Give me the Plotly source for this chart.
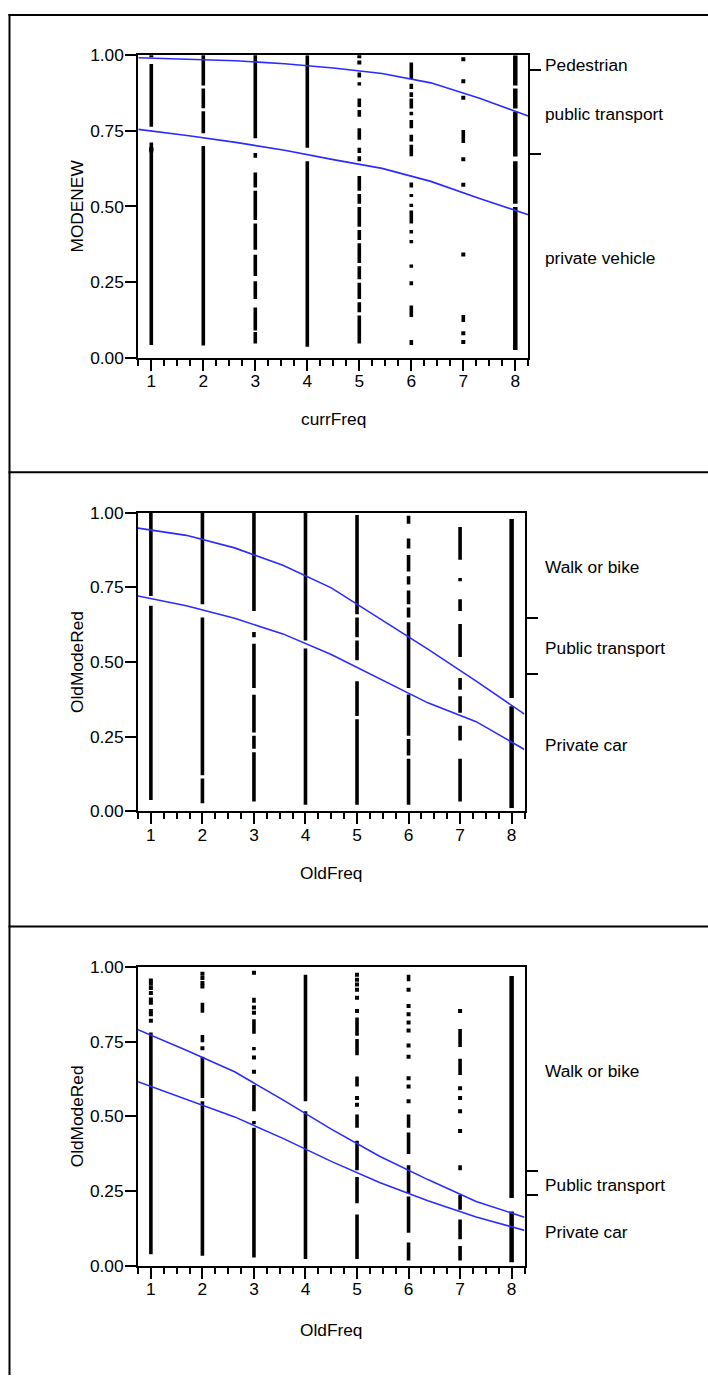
import plotly.graph_objects as go

W, H = 708, 1385
FONT = "Liberation Sans, Arial, sans-serif"
FS = 17.3

FREQ = [1, 2, 3, 4, 5, 6, 7, 8]
CURVE_X = [0.75, 1.6875, 2.625, 3.5625, 4.5, 5.4375, 6.375, 7.3125, 8.25]
Y_TICKS = [0.0, 0.25, 0.5, 0.75, 1.0]
Y_TICKTEXT = ["0.00", "0.25", "0.50", "0.75", "1.00"]

# ---------------- panel 1: MODENEW vs currFreq ----------------
P1_XTITLE = "currFreq"
P1_YTITLE = "MODENEW"
P1_UPPER = [0.992, 0.988, 0.982, 0.972, 0.958, 0.940, 0.909, 0.858, 0.799]
P1_LOWER = [0.755, 0.735, 0.712, 0.686, 0.655, 0.626, 0.583, 0.526, 0.473]
P1_BOUNDS = [0.951, 0.672]
P1_LEVELS = ["Pedestrian", "public transport", "private vehicle"]
P1_SEGMENTS = [
    [(0.764, 0.971), (0.042, 0.712)],
    [(0.90, 1.007), (0.825, 0.89), (0.742, 0.815), (0.040, 0.700)],
    [(0.726, 1.009), (0.661, 0.677), (0.563, 0.612), (0.455, 0.552), (0.357, 0.444),
     (0.270, 0.340), (0.194, 0.253), (0.090, 0.166), (0.047, 0.085)],
    [(0.694, 1.0), (0.036, 0.650)],
    [(0.927, 0.943), (0.900, 0.911), (0.829, 0.857), (0.797, 0.819), (0.721, 0.759),
     (0.677, 0.694), (0.650, 0.666), (0.552, 0.601), (0.509, 0.541), (0.433, 0.498),
     (0.389, 0.422), (0.313, 0.378), (0.259, 0.302), (0.194, 0.248), (0.150, 0.183),
     (0.047, 0.139)],
    [(0.922, 0.976), (0.889, 0.906), (0.862, 0.878), (0.824, 0.857), (0.802, 0.813),
     (0.759, 0.786), (0.715, 0.737), (0.666, 0.704), (0.563, 0.579), (0.531, 0.541),
     (0.498, 0.509), (0.444, 0.487), (0.411, 0.422), (0.378, 0.389), (0.297, 0.308),
     (0.239, 0.253), (0.134, 0.172), (0.042, 0.058)],
    [(0.710, 0.753), (0.118, 0.141)],
    [(0.900, 1.0), (0.824, 0.89), (0.665, 0.813), (0.509, 0.650), (0.025, 0.498)],
]
P1_DOTS = [
    [1.0, 0.69, 0.685],
    [],
    [],
    [],
    [0.997, 0.976],
    [],
    [0.987, 0.914, 0.860, 0.656, 0.572, 0.341, 0.081, 0.052],
    [],
]

# ---------------- panel 2: OldModeRed vs OldFreq ----------------
P2_XTITLE = "OldFreq"
P2_YTITLE = "OldModeRed"
P2_UPPER = [0.948, 0.924, 0.882, 0.824, 0.748, 0.645, 0.543, 0.436, 0.325]
P2_LOWER = [0.721, 0.688, 0.646, 0.594, 0.525, 0.443, 0.363, 0.300, 0.207]
P2_BOUNDS = [0.648, 0.459]
P2_LEVELS = ["Walk or bike", "Public transport", "Private car"]
P2_SEGMENTS = [
    [(0.721, 1.007), (0.038, 0.688)],
    [(0.693, 0.999), (0.121, 0.649), (0.027, 0.110)],
    [(0.671, 1.003), (0.583, 0.600), (0.413, 0.561), (0.264, 0.390), (0.209, 0.253),
     (0.033, 0.198)],
    [(0.572, 1.0), (0.022, 0.545)],
    [(0.660, 0.992), (0.583, 0.649), (0.506, 0.572), (0.319, 0.435), (0.022, 0.308)],
    [(0.963, 0.990), (0.880, 0.913), (0.803, 0.858), (0.759, 0.787), (0.693, 0.739),
     (0.649, 0.682), (0.413, 0.633), (0.253, 0.391), (0.187, 0.242), (0.022, 0.176)],
    [(0.842, 0.952), (0.770, 0.781), (0.671, 0.710), (0.517, 0.627), (0.407, 0.446),
     (0.330, 0.385), (0.237, 0.286), (0.033, 0.176)],
    [(0.379, 0.979), (0.011, 0.352)],
]
P2_DOTS = [[], [], [], [], [], [], [], []]

# ---------------- panel 3: OldModeRed vs OldFreq ----------------
P3_XTITLE = "OldFreq"
P3_YTITLE = "OldModeRed"
P3_UPPER = [0.790, 0.721, 0.649, 0.555, 0.457, 0.366, 0.288, 0.215, 0.162]
P3_LOWER = [0.616, 0.556, 0.498, 0.426, 0.349, 0.278, 0.217, 0.163, 0.118]
P3_BOUNDS = [0.318, 0.238]
P3_LEVELS = ["Walk or bike", "Public transport", "Private car"]
P3_SEGMENTS = [
    [(0.038, 0.781)],
    [(0.847, 0.880), (0.748, 0.772), (0.561, 0.699), (0.033, 0.550)],
    [(0.880, 0.897), (0.776, 0.825), (0.721, 0.732), (0.517, 0.605), (0.473, 0.484),
     (0.027, 0.462)],
    [(0.550, 0.974), (0.022, 0.517)],
    [(0.770, 0.831), (0.704, 0.759), (0.600, 0.633), (0.462, 0.506), (0.319, 0.418),
     (0.209, 0.297), (0.022, 0.171)],
    [(0.952, 0.974), (0.462, 0.506), (0.374, 0.446), (0.242, 0.336), (0.110, 0.231),
     (0.017, 0.077)],
    [(0.732, 0.792), (0.638, 0.693), (0.319, 0.336), (0.187, 0.237), (0.088, 0.154),
     (0.017, 0.066)],
    [(0.226, 0.970), (0.011, 0.181)],
]
P3_DOTS = [
    [0.955, 0.944, 0.930, 0.913, 0.891, 0.880, 0.853, 0.842, 0.820],
    [0.977, 0.963, 0.946, 0.935, 0.728],
    [0.981, 0.864, 0.847, 0.697, 0.649],
    [],
    [0.974, 0.957, 0.941, 0.924, 0.897, 0.853, 0.561, 0.539],
    [0.924, 0.869, 0.842, 0.814, 0.787, 0.737, 0.699, 0.627, 0.600, 0.550],
    [0.853, 0.594, 0.561, 0.517, 0.451],
    [],
]

PANELS = [
    dict(xt=P1_XTITLE, yt=P1_YTITLE, up=P1_UPPER, lo=P1_LOWER, bounds=P1_BOUNDS,
         levels=P1_LEVELS, segs=P1_SEGMENTS, dots=P1_DOTS,
         box=(138.3, 528.3, 46.0, 352.7), xtitle_y=415, right_x=543),
    dict(xt=P2_XTITLE, yt=P2_YTITLE, up=P2_UPPER, lo=P2_LOWER, bounds=P2_BOUNDS,
         levels=P2_LEVELS, segs=P2_SEGMENTS, dots=P2_DOTS,
         box=(138.0, 524.5, 510.0, 813.0), xtitle_y=876, right_x=543),
    dict(xt=P3_XTITLE, yt=P3_YTITLE, up=P3_UPPER, lo=P3_LOWER, bounds=P3_BOUNDS,
         levels=P3_LEVELS, segs=P3_SEGMENTS, dots=P3_DOTS,
         box=(138.0, 524.5, 971.0, 1274.0), xtitle_y=1339, right_x=543),
]

BLUE = "#2b2bff"


def px(x):
    return x / W


def py(y):
    return 1 - y / H


fig = go.Figure()
annotations = []
layout = {}

for i, p in enumerate(PANELS, start=1):
    xa = "x" if i == 1 else f"x{i}"
    ya = "y" if i == 1 else f"y{i}"
    yr = f"y{i + 3}"
    x0, x1, y0, y1 = p["box"]

    # scatter strips
    for k, col in enumerate(p["segs"]):
        xs, ys = [], []
        for lo, hi in col:
            xs += [FREQ[k], FREQ[k], None]
            ys += [lo, hi, None]
        fig.add_trace(go.Scatter(
            x=xs, y=ys, mode="lines", xaxis=xa, yaxis=ya, showlegend=False,
            line=dict(color="black", width=4.5 if k == 7 else 3.6), hoverinfo="skip"))
    for k, col in enumerate(p["dots"]):
        if col:
            fig.add_trace(go.Scatter(
                x=[FREQ[k]] * len(col), y=col, mode="markers", xaxis=xa, yaxis=ya,
                showlegend=False, marker=dict(symbol="square", size=4, color="black",
                                              line=dict(width=0)),
                hoverinfo="skip"))
    # fitted cumulative curves
    for curve in (p["up"], p["lo"]):
        fig.add_trace(go.Scatter(
            x=CURVE_X, y=curve, mode="lines", xaxis=xa, yaxis=ya, showlegend=False,
            line=dict(color=BLUE, width=1.6), hoverinfo="skip"))
    # dummy trace for right axis
    fig.add_trace(go.Scatter(x=[1], y=[0.5], mode="markers", xaxis=xa, yaxis=yr,
                             marker=dict(opacity=0), showlegend=False, hoverinfo="skip"))

    xdom = [px(x0), px(x1)]
    ydom = [py(y1), py(y0)]
    xkey = "xaxis" if i == 1 else f"xaxis{i}"
    ykey = "yaxis" if i == 1 else f"yaxis{i}"
    layout[xkey] = dict(
        domain=xdom, anchor=ya, range=[0.75, 8.25], tick0=1, dtick=1,
        ticks="outside", ticklen=11, tickwidth=2, tickcolor="black",
        ticklabelstandoff=-4,
        showline=True, linewidth=2, linecolor="black", mirror=True,
        showgrid=False, zeroline=False,
        tickfont=dict(family=FONT, size=FS, color="black"),
        minor=dict(dtick=0.25, tick0=0, ticks="outside", ticklen=6, tickwidth=2,
                   tickcolor="black", showgrid=False),
    )
    layout[ykey] = dict(
        domain=ydom, anchor=xa, range=[0, 1], tickvals=Y_TICKS, ticktext=Y_TICKTEXT,
        ticks="outside", ticklen=11, tickwidth=2, tickcolor="black",
        ticklabelstandoff=-2,
        showline=True, linewidth=2, linecolor="black", mirror=True,
        showgrid=False, zeroline=False,
        tickfont=dict(family=FONT, size=FS, color="black"),
    )
    layout[f"yaxis{i + 3}"] = dict(
        domain=ydom, anchor=xa, overlaying=ya, side="right", range=[0, 1],
        tickvals=p["bounds"], ticks="outside", ticklen=12, tickwidth=2,
        tickcolor="black", showticklabels=False, showline=False, showgrid=False,
        zeroline=False,
    )

    # axis titles
    annotations.append(dict(
        text=p["xt"], xref="paper", yref="paper", x=px((x0 + x1) / 2), y=py(p["xtitle_y"]),
        xanchor="center", yanchor="middle", showarrow=False,
        font=dict(family=FONT, size=FS, color="black")))
    annotations.append(dict(
        text=p["yt"], xref="paper", yref="paper", x=px(77), y=py((y0 + y1) / 2),
        xanchor="center", yanchor="middle", showarrow=False, textangle=-90,
        font=dict(family=FONT, size=FS, color="black")))
    # response level labels at the midpoints between right-axis boundaries
    edges = [1.0] + p["bounds"] + [0.0]
    for j, lab in enumerate(p["levels"]):
        mid = (edges[j] + edges[j + 1]) / 2
        annotations.append(dict(
            text=lab, xref="paper", yref=ya, x=px(p["right_x"]), y=mid,
            xanchor="left", yanchor="middle", yshift=-2, showarrow=False,
            font=dict(family=FONT, size=FS, color="black")))

shapes = [
    dict(type="line", xref="paper", yref="paper", x0=px(9.5), x1=px(9.5),
         y0=py(4), y1=0, line=dict(color="black", width=2)),
]
for yy in (5, 469, 930):
    shapes.append(dict(type="line", xref="paper", yref="paper", x0=px(8.5), x1=1,
                       y0=py(yy), y1=py(yy), line=dict(color="black", width=2)))

fig.update_layout(
    width=W, height=H, margin=dict(l=0, r=0, t=0, b=0),
    paper_bgcolor="white", plot_bgcolor="white",
    annotations=annotations, shapes=shapes, showlegend=False,
    font=dict(family=FONT, size=FS, color="black"),
    **layout,
)

fig.write_html("out.html")
